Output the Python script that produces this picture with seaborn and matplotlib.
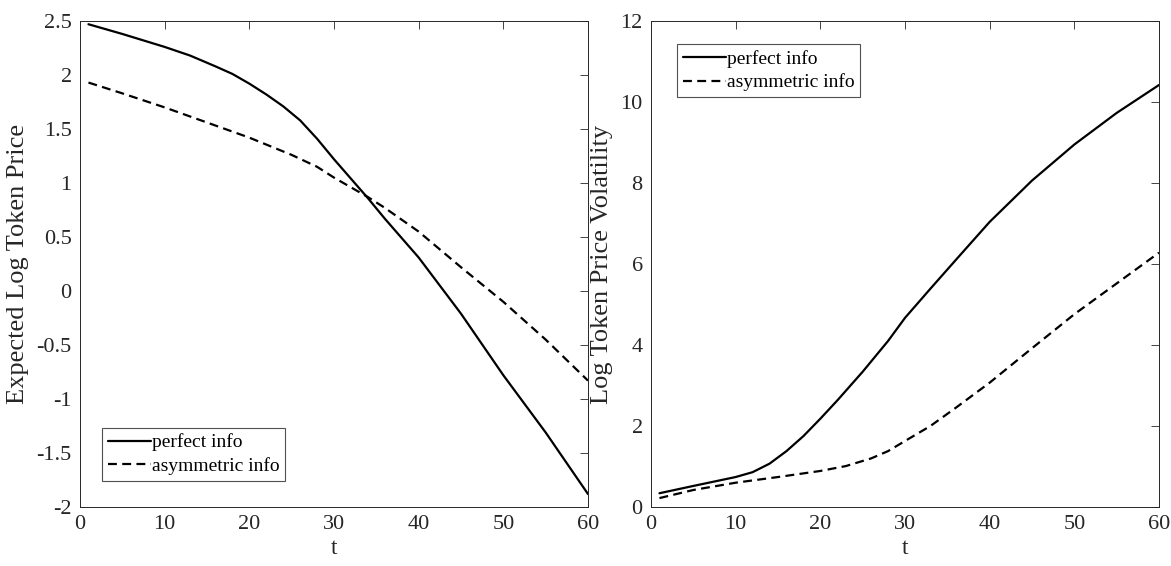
import numpy as np
import pandas as pd
import matplotlib
matplotlib.use("Agg")
import matplotlib.pyplot as plt
from matplotlib.lines import Line2D
import seaborn as sns

# ---- data ----
t_perfect_price = [1, 5, 10, 13, 16, 18, 20, 22, 24, 26, 28, 30, 32, 34, 36, 38, 40, 45, 50, 55, 60]
perfect_price = [2.47, 2.38, 2.26, 2.18, 2.08, 2.01, 1.92, 1.82, 1.71, 1.58, 1.41, 1.22, 1.04, 0.86,
                 0.67, 0.49, 0.31, -0.21, -0.78, -1.31, -1.88]
t_asym_price = [1, 5, 10, 15, 20, 25, 28, 30, 32, 34, 36, 38, 40, 45, 50, 55, 60]
asym_price = [1.93, 1.83, 1.70, 1.56, 1.42, 1.26, 1.15, 1.05, 0.96, 0.87, 0.77, 0.66, 0.55,
              0.22, -0.10, -0.45, -0.83]

t_perfect_vol = [1, 5, 10, 12, 14, 16, 18, 20, 22, 25, 28, 30, 33, 36, 40, 45, 50, 55, 60]
perfect_vol = [0.34, 0.52, 0.74, 0.86, 1.07, 1.38, 1.75, 2.18, 2.63, 3.34, 4.10, 4.67, 5.39, 6.10,
               7.04, 8.06, 8.95, 9.73, 10.42]
t_asym_vol = [1, 5, 10, 15, 20, 23, 26, 28, 30, 33, 36, 40, 45, 50, 55, 60]
asym_vol = [0.22, 0.42, 0.60, 0.74, 0.89, 1.01, 1.20, 1.38, 1.63, 2.00, 2.45, 3.07, 3.92, 4.76,
            5.52, 6.28]

labels = ["perfect info", "asymmetric info"]
left_yticks = [-2, -1.5, -1, -0.5, 0, 0.5, 1, 1.5, 2, 2.5]
left_yticklabels = ["-2", "-1.5", "-1", "-0.5", "0", "0.5", "1", "1.5", "2", "2.5"]
right_yticks = [0, 2, 4, 6, 8, 10, 12]
xticks = [0, 10, 20, 30, 40, 50, 60]

sns.set_theme(style="white")
plt.rcParams['font.family'] = ['Liberation Serif', 'DejaVu Serif']

fig = plt.figure(figsize=(11.71, 5.66), dpi=100)
W, H = 1171, 566
ax1 = fig.add_axes([80 / W, 1 - 507 / H, (588 - 80) / W, (507 - 21) / H])
ax2 = fig.add_axes([651 / W, 1 - 507 / H, (1159 - 651) / W, (507 - 21) / H])

df1 = pd.DataFrame({"t": t_perfect_price + t_asym_price,
                    "v": perfect_price + asym_price,
                    "s": [labels[0]] * len(t_perfect_price) + [labels[1]] * len(t_asym_price)})
df2 = pd.DataFrame({"t": t_perfect_vol + t_asym_vol,
                    "v": perfect_vol + asym_vol,
                    "s": [labels[0]] * len(t_perfect_vol) + [labels[1]] * len(t_asym_vol)})

DASH = (4, 2.4)
for ax, df in [(ax1, df1), (ax2, df2)]:
    sns.lineplot(data=df, x="t", y="v", hue="s", style="s", sort=True,
                 palette=["black", "black"], dashes=[(None, None), DASH],
                 linewidth=1.6, ax=ax, legend=False)

tick_color = "#262626"
for ax in (ax1, ax2):
    ax.set_xlim(0, 60)
    ax.set_xticks(xticks)
    ax.set_xlabel("t", fontsize=17, color=tick_color, labelpad=3)
    ax.tick_params(direction="in", top=True, right=True, length=6, width=0.6,
                   labelsize=16, colors=tick_color, pad=6)
    for sp in ax.spines.values():
        sp.set_color(tick_color)
        sp.set_linewidth(0.7)
    ax.set_facecolor("white")

ax1.set_ylim(-2, 2.5)
ax1.set_yticks(left_yticks)
ax1.set_yticklabels(left_yticklabels)
ax1.set_ylabel("Expected Log Token Price", fontsize=19, color=tick_color, labelpad=5)

ax2.set_ylim(0, 12)
ax2.set_yticks(right_yticks)
ax2.set_ylabel("Log Token Price Volatility", fontsize=19, color=tick_color, labelpad=5)

handles = [Line2D([], [], color="black", lw=1.6),
           Line2D([], [], color="black", lw=1.6, dashes=DASH)]
for ax, loc, anchor in [(ax1, "lower left", (22 / 508, 26 / 486)),
                        (ax2, "upper left", (26 / 508, 1 - 23 / 486))]:
    leg = ax.legend(handles, labels, loc=loc, bbox_to_anchor=anchor, fontsize=14,
                    frameon=True, fancybox=False, edgecolor=tick_color,
                    handlelength=2.2, handletextpad=0.05, borderpad=0.3,
                    labelspacing=0.3, borderaxespad=0)
    leg.get_frame().set_linewidth(0.8)
    for txt in leg.get_texts():
        txt.set_color("black")

fig.savefig("out.png", dpi=100, facecolor="white")
